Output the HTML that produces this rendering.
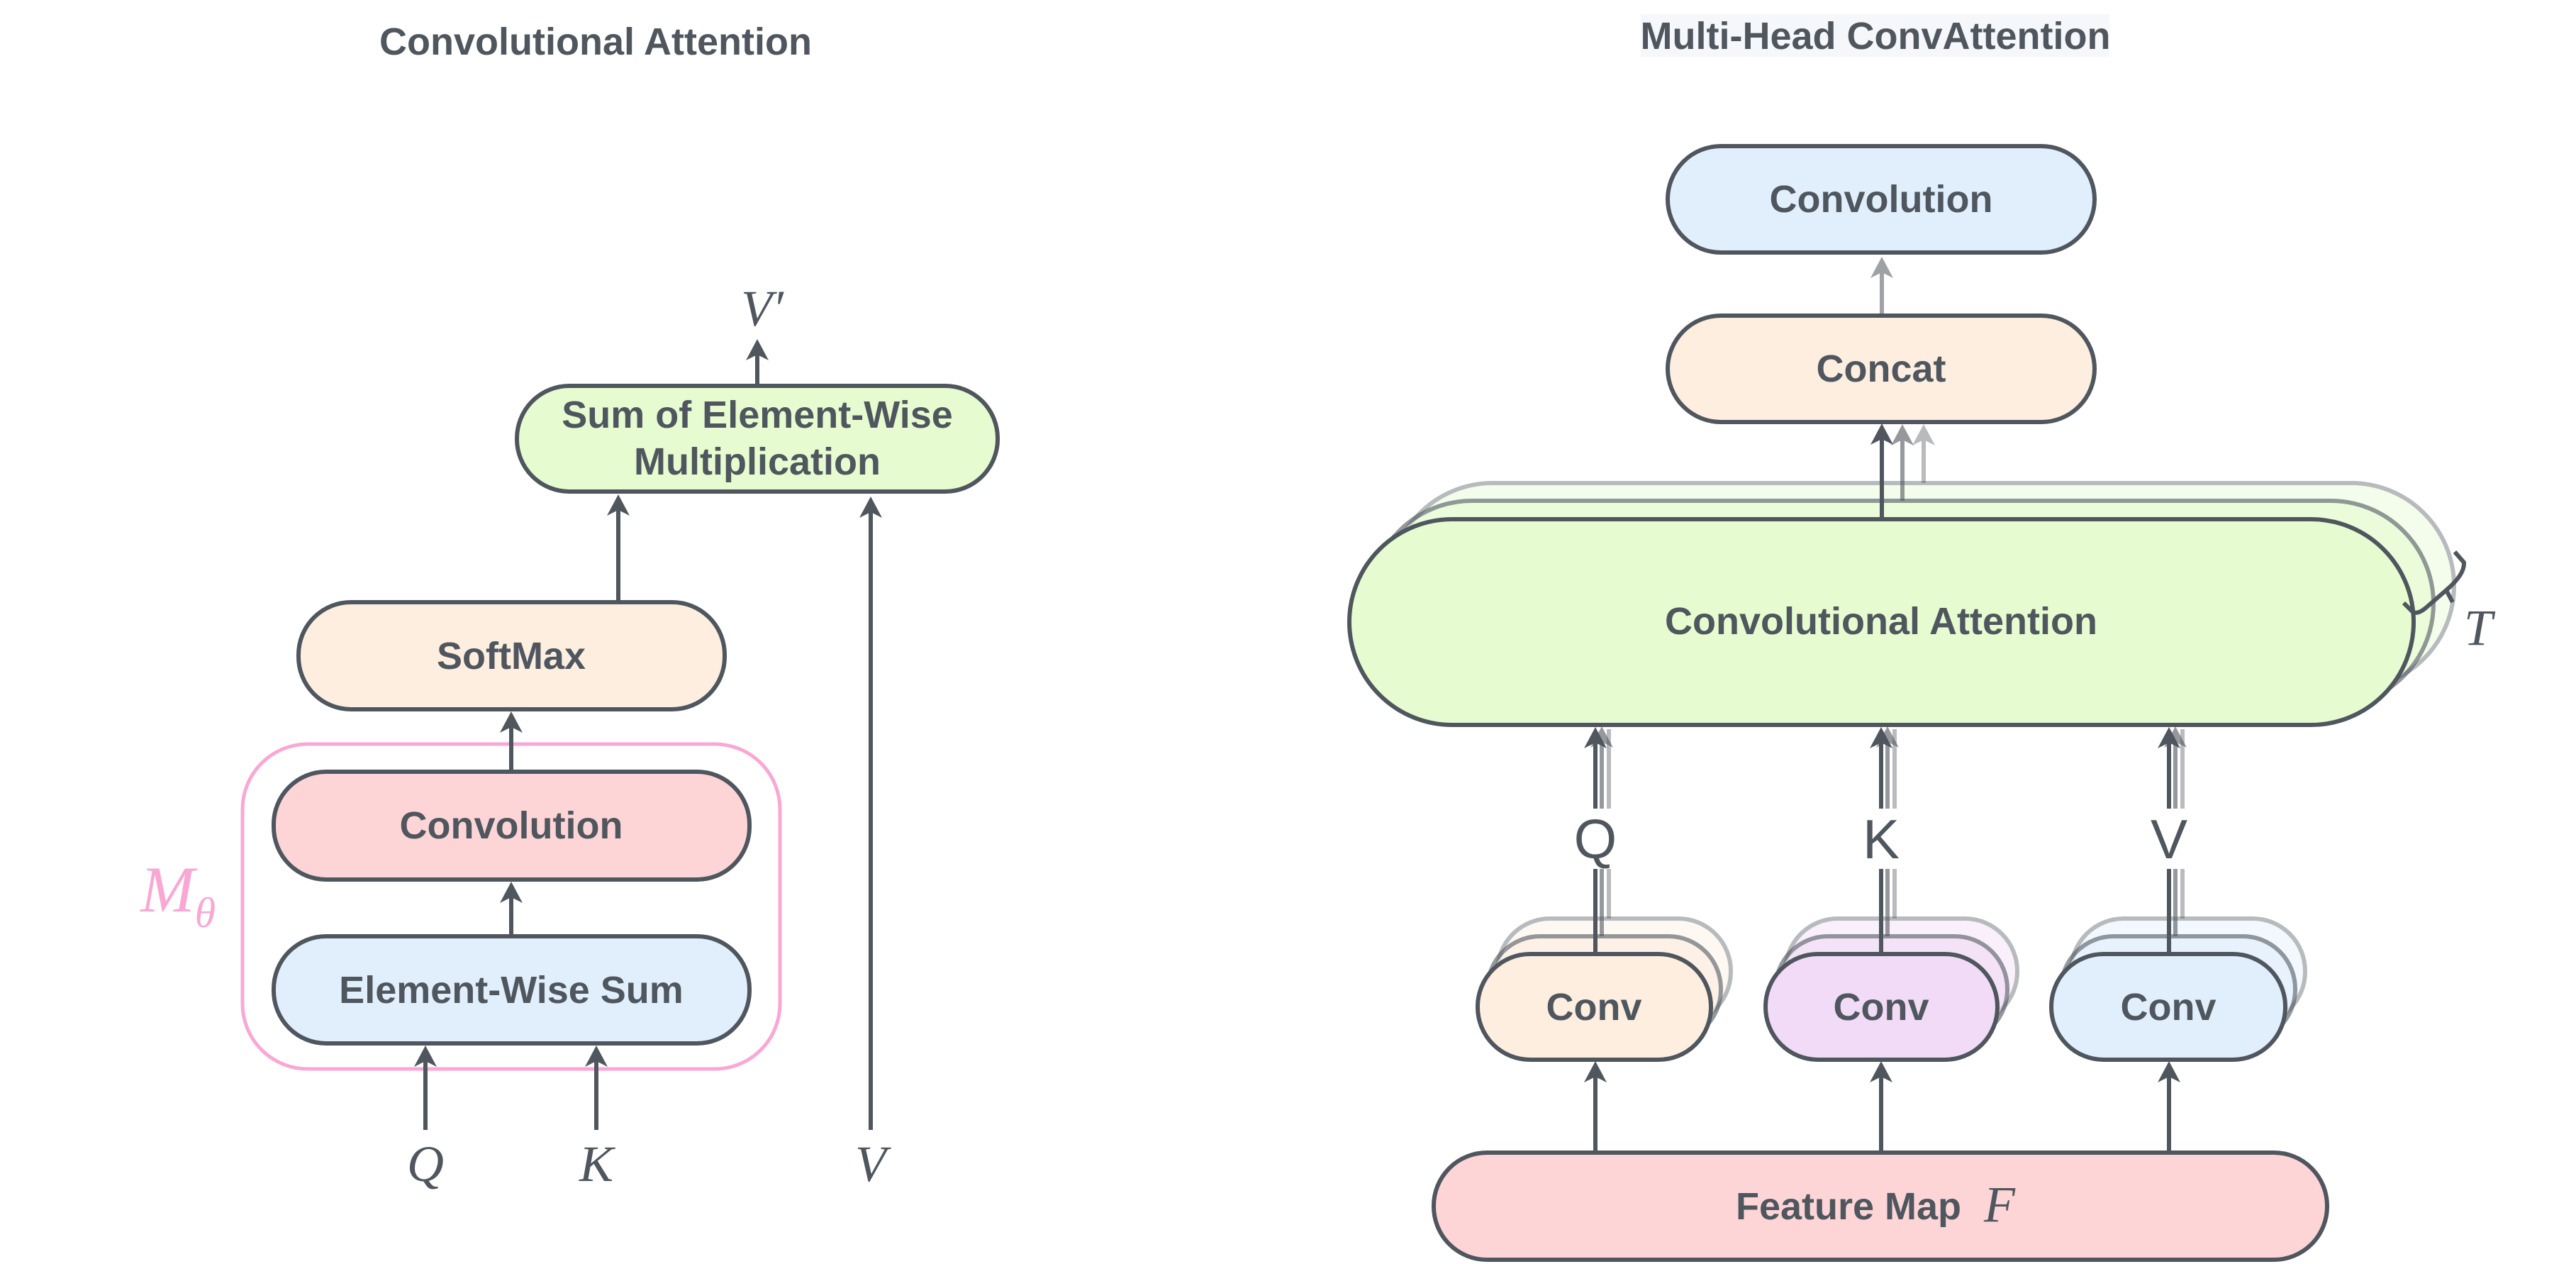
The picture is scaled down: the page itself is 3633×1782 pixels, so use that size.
<!DOCTYPE html>
<html><head><meta charset="utf-8"><style>
html,body{margin:0;padding:0;background:#fff;}
svg{display:block;}
.t{font-family:"Liberation Sans",Arial,sans-serif;font-weight:bold;font-size:54px;fill:#4f565e;text-anchor:middle;dominant-baseline:central;}
.m{font-family:"Liberation Serif",serif;font-style:italic;font-size:72px;fill:#4f565e;text-anchor:middle;dominant-baseline:central;}
.s{font-family:"Liberation Sans",Arial,sans-serif;font-size:78px;fill:#4f565e;text-anchor:middle;dominant-baseline:central;}
.b{stroke:#4f565e;stroke-width:6;}
.l{stroke:#4f565e;stroke-width:6;fill:none;}
</style></head><body>
<svg width="3633" height="1782" viewBox="0 0 3633 1782" xmlns="http://www.w3.org/2000/svg">
<defs>
<g id="ah"><polygon points="0,0 -16,30 0,22 16,30" fill="#4f565e"/></g>
</defs>

<!-- LEFT -->
<text class="t" x="840" y="59">Convolutional Attention</text>

<rect x="342" y="1049" width="758" height="458" rx="92" fill="none" stroke="#f9a8d4" stroke-width="5"/>
<text x="198" y="1285" font-family="Liberation Serif,serif" font-style="italic" font-size="92" fill="#f9a8d4">M<tspan font-size="60" dy="22">θ</tspan></text>

<rect class="b" x="729" y="544" width="678" height="149" rx="74" fill="#e6fcd0"/>
<text class="t" x="1068" y="585">Sum of Element-Wise</text>
<text class="t" x="1068" y="651">Multiplication</text>

<rect class="b" x="421" y="849" width="601" height="151" rx="74" fill="#fdeee0"/>
<text class="t" x="721" y="925">SoftMax</text>

<rect class="b" x="386" y="1088" width="671" height="152" rx="74" fill="#fdd5d6"/>
<text class="t" x="721" y="1164">Convolution</text>

<rect class="b" x="386" y="1320" width="671" height="151" rx="74" fill="#e1effd"/>
<text class="t" x="721" y="1396">Element-Wise Sum</text>

<line class="l" x1="1068" y1="544" x2="1068" y2="500"/><use href="#ah" x="1068" y="478"/>
<text class="m" x="1075" y="435">V′</text>
<line class="l" x1="872" y1="849" x2="872" y2="716"/><use href="#ah" x="872" y="697"/>
<line class="l" x1="721" y1="1088" x2="721" y2="1022"/><use href="#ah" x="721" y="1003"/>
<line class="l" x1="721" y1="1320" x2="721" y2="1262"/><use href="#ah" x="721" y="1243"/>
<line class="l" x1="600" y1="1593" x2="600" y2="1494"/><use href="#ah" x="600" y="1474"/>
<line class="l" x1="841" y1="1593" x2="841" y2="1494"/><use href="#ah" x="841" y="1474"/>
<line class="l" x1="1228" y1="1593" x2="1228" y2="720"/><use href="#ah" x="1228" y="700"/>
<text class="m" x="600" y="1641">Q</text>
<text class="m" x="841" y="1641">K</text>
<text class="m" x="1228" y="1641">V</text>

<!-- RIGHT -->
<rect x="2314" y="20" width="661" height="60" fill="#f5f7fa"/>
<text class="t" x="2645" y="51">Multi-Head ConvAttention</text>

<rect class="b" x="2352" y="206" width="602" height="150" rx="75" fill="#e1effd"/>
<text class="t" x="2653" y="281">Convolution</text>

<rect class="b" x="2352" y="445" width="602" height="150" rx="75" fill="#fdeee0"/>
<text class="t" x="2653" y="520">Concat</text>

<g opacity="0.55"><line class="l" x1="2654" y1="445" x2="2654" y2="382"/><use href="#ah" x="2654" y="362"/></g>

<!-- CA copies -->
<g opacity="0.4"><rect class="b" x="1960" y="681" width="1501" height="290" rx="145" fill="#e6fcd0"/></g>
<g opacity="0.6"><rect class="b" x="1931" y="706" width="1501" height="290" rx="145" fill="#e6fcd0"/></g>
<g opacity="0.4"><line class="l" x1="2713" y1="681" x2="2713" y2="620"/><use href="#ah" x="2713" y="598"/></g>
<g opacity="0.6"><line class="l" x1="2683" y1="706" x2="2683" y2="620"/><use href="#ah" x="2683" y="598"/></g>
<rect class="b" x="1903" y="732" width="1501" height="290" rx="145" fill="#e6fcd0"/>
<text class="t" x="2653" y="876">Convolutional Attention</text>
<line class="l" x1="2654" y1="732" x2="2654" y2="618"/><use href="#ah" x="2654" y="597"/>

<path class="l" d="M3390,850 L3403,863 Q3410,866 3420,858 L3450,832 Q3476,810 3475,793 L3462,778 M3450,832 L3459,849"/>
<text class="m" x="3495" y="885">T</text>

<!-- Conv boxes copies -->
<g opacity="0.4">
<rect class="b" x="2112" y="1295" width="329" height="149" rx="74" fill="#fdeee0"/>
<rect class="b" x="2518" y="1295" width="327" height="149" rx="74" fill="#f1dbf6"/>
<rect class="b" x="2921" y="1295" width="330" height="149" rx="74" fill="#e1effd"/>
</g>
<g opacity="0.6">
<rect class="b" x="2098" y="1320" width="329" height="149" rx="74" fill="#fdeee0"/>
<rect class="b" x="2504" y="1320" width="327" height="149" rx="74" fill="#f1dbf6"/>
<rect class="b" x="2907" y="1320" width="330" height="149" rx="74" fill="#e1effd"/>
</g>

<!-- gray copy lines Q K V -->
<g opacity="0.4">
<line class="l" x1="2269" y1="1295" x2="2269" y2="1028"/>
<line class="l" x1="2672" y1="1295" x2="2672" y2="1028"/>
<line class="l" x1="3078" y1="1295" x2="3078" y2="1028"/>
</g>
<g opacity="0.6">
<line class="l" x1="2259" y1="1320" x2="2259" y2="1040"/><use href="#ah" x="2259" y="1024"/>
<line class="l" x1="2662" y1="1320" x2="2662" y2="1040"/><use href="#ah" x="2662" y="1024"/>
<line class="l" x1="3068" y1="1320" x2="3068" y2="1040"/><use href="#ah" x="3068" y="1024"/>
</g>

<line class="l" x1="2250" y1="1345" x2="2250" y2="1045"/><use href="#ah" x="2250" y="1025"/>
<line class="l" x1="2653" y1="1345" x2="2653" y2="1045"/><use href="#ah" x="2653" y="1025"/>
<line class="l" x1="3059" y1="1345" x2="3059" y2="1045"/><use href="#ah" x="3059" y="1025"/>

<rect x="2215" y="1140" width="80" height="85" fill="#fff"/>
<rect x="2615" y="1140" width="80" height="85" fill="#fff"/>
<rect x="3020" y="1140" width="80" height="85" fill="#fff"/>
<text class="s" x="2250" y="1183">Q</text>
<text class="s" x="2653" y="1183">K</text>
<text class="s" x="3059" y="1183">V</text>

<rect class="b" x="2084" y="1345" width="329" height="149" rx="74" fill="#fdeee0"/>
<text class="t" x="2248" y="1420">Conv</text>
<rect class="b" x="2490" y="1345" width="327" height="149" rx="74" fill="#f1dbf6"/>
<text class="t" x="2653" y="1420">Conv</text>
<rect class="b" x="2893" y="1345" width="330" height="149" rx="74" fill="#e1effd"/>
<text class="t" x="3058" y="1420">Conv</text>

<line class="l" x1="2250" y1="1625" x2="2250" y2="1516"/><use href="#ah" x="2250" y="1496"/>
<line class="l" x1="2653" y1="1625" x2="2653" y2="1516"/><use href="#ah" x="2653" y="1496"/>
<line class="l" x1="3059" y1="1625" x2="3059" y2="1516"/><use href="#ah" x="3059" y="1496"/>

<rect class="b" x="2022" y="1625" width="1260" height="151" rx="75" fill="#fdd5d6"/>
<text class="t" x="2607" y="1701">Feature Map</text>
<text class="m" x="2820" y="1698">F</text>
</svg>
</body></html>
